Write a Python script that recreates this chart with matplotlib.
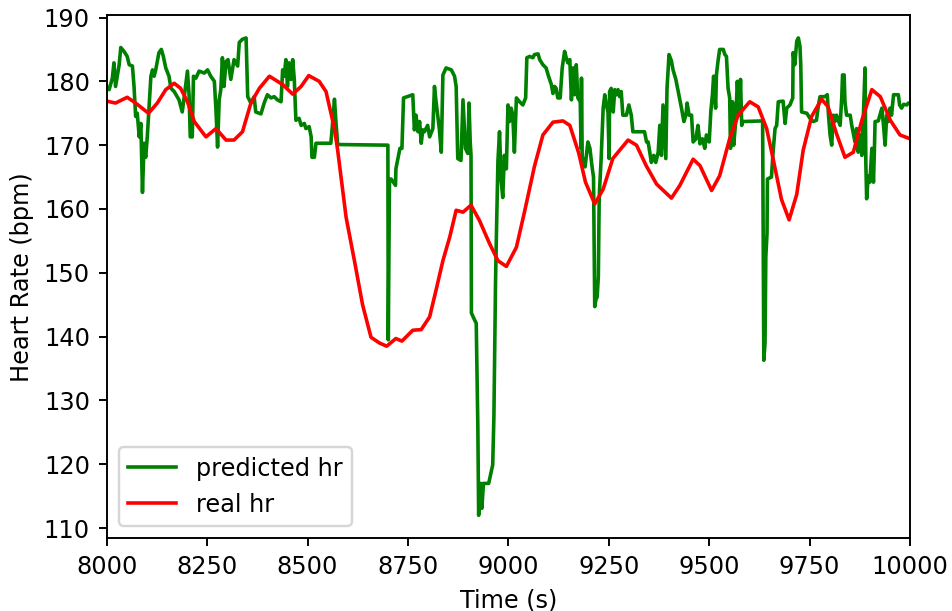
import matplotlib.pyplot as plt

# predicted heart rate (model output), time in seconds
pred_t = [8000, 8006, 8014, 8018, 8022, 8031, 8035, 8043, 8051, 8056, 8064, 8068, 8072, 8076,
          8081, 8085, 8089, 8093, 8097, 8101, 8105, 8110, 8114, 8118, 8122, 8130, 8136, 8141,
          8147, 8155, 8160, 8168, 8180, 8188, 8193, 8201, 8205, 8208, 8213, 8216, 8222, 8230,
          8243, 8251, 8259, 8268, 8272, 8276, 8280, 8284, 8288, 8292, 8297, 8302, 8309, 8317,
          8326, 8330, 8338, 8347, 8351, 8359, 8367, 8371, 8384, 8392, 8400, 8409, 8417, 8425,
          8434, 8438, 8442, 8446, 8450, 8454, 8459, 8463, 8467, 8471, 8479, 8484, 8492, 8496,
          8504, 8509, 8511, 8517, 8521, 8529, 8558, 8563, 8567, 8571, 8575, 8700, 8701, 8704,
          8708, 8719, 8720, 8730, 8735, 8739, 8762, 8766, 8770, 8775, 8779, 8783, 8787, 8791,
          8799, 8804, 8812, 8816, 8820, 8828, 8833, 8837, 8845, 8858, 8866, 8870, 8874, 8882,
          8887, 8893, 8899, 8902, 8905, 8907, 8908, 8916, 8920, 8924, 8926, 8931, 8934, 8938,
          8951, 8961, 8964, 8968, 8970, 8974, 8978, 8982, 8986, 8990, 8995, 8999, 9003, 9007,
          9011, 9015, 9020, 9028, 9036, 9043, 9046, 9053, 9061, 9065, 9074, 9078, 9086, 9094,
          9099, 9107, 9111, 9115, 9119, 9123, 9129, 9134, 9140, 9144, 9148, 9153, 9157, 9161,
          9165, 9169, 9173, 9179, 9181, 9182, 9184, 9186, 9191, 9198, 9203, 9209, 9212, 9215,
          9218, 9221, 9224, 9226, 9227, 9231, 9236, 9240, 9244, 9248, 9251, 9252, 9256, 9261,
          9265, 9269, 9273, 9277, 9281, 9285, 9294, 9300, 9306, 9310, 9339, 9344, 9348, 9352,
          9356, 9362, 9367, 9373, 9377, 9381, 9385, 9389, 9392, 9395, 9400, 9406, 9410, 9417,
          9423, 9431, 9437, 9442, 9445, 9450, 9456, 9460, 9467, 9472, 9477, 9483, 9489, 9493,
          9500, 9504, 9508, 9511, 9516, 9518, 9522, 9526, 9535, 9539, 9543, 9547, 9551, 9553,
          9558, 9561, 9566, 9570, 9575, 9578, 9581, 9583, 9630, 9633, 9636, 9639, 9641, 9644,
          9645, 9655, 9659, 9664, 9668, 9672, 9684, 9689, 9693, 9701, 9708, 9709, 9713, 9718,
          9722, 9726, 9728, 9730, 9743, 9751, 9759, 9767, 9772, 9776, 9788, 9794, 9797, 9801,
          9805, 9809, 9813, 9817, 9826, 9830, 9832, 9836, 9838, 9842, 9851, 9855, 9863, 9867,
          9871, 9876, 9880, 9884, 9888, 9890, 9892, 9896, 9900, 9905, 9909, 9911, 9913, 9921,
          9925, 9930, 9934, 9938, 9942, 9946, 9950, 9954, 9959, 9971, 9974, 9979, 9984, 9992,
          9996, 10000]
pred_hr = [179.2, 178.7, 180.5, 182.9, 179.2, 182.6, 185.3, 184.7, 183.9, 182.6, 182.4, 179.2, 174.5, 175.0,
           171.3, 173.4, 162.6, 170.3, 168.1, 171.3, 175.5, 180.8, 181.8, 180.8, 181.8, 184.5, 185.0, 183.9,
           182.1, 180.8, 178.9, 178.4, 177.1, 175.2, 177.6, 181.6, 177.9, 171.3, 171.3, 180.8, 180.5, 181.6,
           181.3, 181.8, 180.8, 180.0, 175.5, 169.7, 177.1, 178.7, 183.7, 179.2, 183.1, 183.4, 180.3, 183.4,
           182.4, 186.1, 186.6, 186.8, 177.6, 176.6, 177.6, 175.2, 174.9, 176.6, 177.9, 177.4, 177.6, 177.1,
           176.8, 181.8, 180.8, 183.4, 179.2, 182.9, 180.3, 183.4, 180.3, 173.9, 174.2, 173.1, 173.4, 172.6,
           172.9, 171.3, 168.1, 168.1, 170.3, 170.3, 170.3, 173.9, 177.2, 173.4, 170.1, 170.0, 139.5, 164.6,
           164.7, 163.7, 166.3, 169.5, 169.5, 177.4, 177.9, 172.4, 174.7, 172.1, 173.7, 170.3, 172.4, 172.1,
           173.1, 171.3, 172.6, 179.2, 176.8, 172.6, 168.9, 181.0, 182.1, 181.8, 180.8, 179.2, 167.9, 167.6,
           177.1, 169.5, 168.7, 176.6, 170.5, 168.4, 143.7, 142.6, 142.1, 125.9, 112.0, 117.0, 113.1, 117.0,
           117.0, 119.9, 127.5, 148.4, 155.2, 167.5, 172.1, 164.5, 161.8, 168.4, 166.3, 176.3, 173.7, 175.8,
           174.7, 168.9, 177.4, 176.8, 176.3, 177.4, 183.7, 183.9, 183.7, 184.2, 184.3, 183.4, 182.6, 182.1,
           181.0, 179.5, 178.1, 179.2, 178.9, 177.4, 177.4, 182.1, 184.7, 183.7, 182.9, 183.4, 177.1, 182.1,
           177.9, 182.6, 177.4, 176.8, 169.5, 180.5, 166.8, 167.9, 166.6, 170.5, 169.5, 166.3, 165.0, 144.7,
           145.8, 146.2, 149.4, 161.0, 163.0, 167.9, 175.8, 177.9, 176.3, 175.2, 167.9, 178.4, 178.9, 175.2,
           178.7, 177.9, 178.7, 177.6, 178.4, 174.7, 174.7, 176.3, 174.7, 172.1, 172.1, 170.5, 170.5, 168.9,
           167.3, 168.4, 167.3, 168.9, 173.1, 168.4, 176.3, 171.6, 167.9, 178.9, 184.2, 183.2, 181.8, 180.3,
           178.4, 175.8, 173.7, 174.7, 176.6, 174.7, 174.7, 170.5, 171.0, 173.1, 170.2, 171.0, 169.5, 171.6,
           170.5, 175.2, 177.9, 180.8, 175.8, 181.0, 183.2, 185.0, 185.0, 184.2, 183.9, 178.9, 177.4, 169.5,
           176.8, 170.0, 173.7, 180.0, 174.7, 180.3, 173.1, 173.7, 173.8, 173.8, 136.3, 139.0, 152.5, 156.2,
           164.7, 165.0, 168.9, 172.6, 173.1, 176.8, 176.9, 173.4, 175.8, 176.3, 177.4, 184.5, 182.6, 186.3,
           186.8, 185.5, 182.6, 175.2, 175.0, 174.2, 173.7, 173.9, 176.3, 177.6, 177.6, 177.9, 174.7, 171.6,
           170.0, 174.7, 173.7, 174.7, 173.1, 177.4, 181.0, 181.0, 176.8, 174.7, 174.7, 173.1, 170.5, 172.6,
           168.9, 171.6, 168.4, 174.7, 182.1, 167.3, 161.6, 165.2, 164.2, 169.5, 164.2, 168.4, 173.7, 173.8,
           174.7, 175.8, 173.1, 170.0, 174.7, 173.7, 175.8, 174.7, 177.9, 177.9, 176.3, 175.8, 176.4, 176.3,
           176.6, 176.6]

# measured heart rate
real_t = [8000, 8022, 8051, 8072, 8104, 8126, 8147, 8168, 8184, 8201, 8218, 8247, 8272, 8297,
          8317, 8338, 8359, 8380, 8405, 8438, 8463, 8484, 8503, 8529, 8546, 8567, 8575, 8583,
          8596, 8617, 8637, 8658, 8679, 8697, 8720, 8735, 8762, 8783, 8804, 8820, 8837, 8854,
          8870, 8887, 8907, 8928, 8953, 8974, 8995, 9020, 9040, 9065, 9086, 9111, 9136, 9153,
          9175, 9192, 9215, 9236, 9260, 9298, 9319, 9343, 9369, 9406, 9427, 9460, 9477, 9506,
          9526, 9551, 9572, 9601, 9622, 9643, 9659, 9680, 9699, 9718, 9734, 9755, 9780, 9796,
          9817, 9838, 9859, 9880, 9905, 9926, 9951, 9975, 10000]
real_hr = [176.9, 176.6, 177.5, 176.6, 175.0, 176.6, 178.7, 179.7, 178.9, 176.8, 173.7, 171.3, 172.6, 170.8,
           170.8, 172.1, 176.6, 178.9, 180.8, 179.5, 178.0, 179.2, 180.9, 180.0, 178.4, 172.6, 169.2, 165.2,
           158.7, 151.8, 145.0, 139.9, 139.0, 138.5, 139.7, 139.3, 141.0, 141.1, 143.1, 147.3, 151.9, 155.6,
           159.8, 159.5, 160.6, 158.2, 154.6, 151.9, 151.0, 154.0, 159.5, 166.7, 171.6, 173.6, 173.8, 173.1,
           168.8, 164.2, 160.8, 163.1, 167.9, 170.8, 170.0, 166.8, 163.9, 161.7, 163.7, 167.8, 166.8, 162.9,
           165.2, 171.0, 174.7, 176.8, 176.0, 172.6, 167.9, 161.5, 158.3, 162.3, 169.2, 174.5, 177.2, 176.0,
           171.8, 168.1, 168.9, 173.9, 178.7, 177.6, 173.9, 171.6, 171.0]

fig = plt.figure(figsize=(952 / 173, 611 / 173), dpi=173)
ax = fig.add_axes([0.1121, 0.119, 0.8438, 0.8565])
ax.plot(pred_t, pred_hr, color='green', label='predicted hr')
ax.plot(real_t, real_hr, color='red', label='real hr')
ax.set_xlim(8000, 10000)
ax.set_ylim(108.4, 190.4)
ax.set_xlabel('Time (s)')
ax.set_ylabel('Heart Rate (bpm)')
ax.legend(loc='lower left')
fig.savefig('out.png', dpi=173)
